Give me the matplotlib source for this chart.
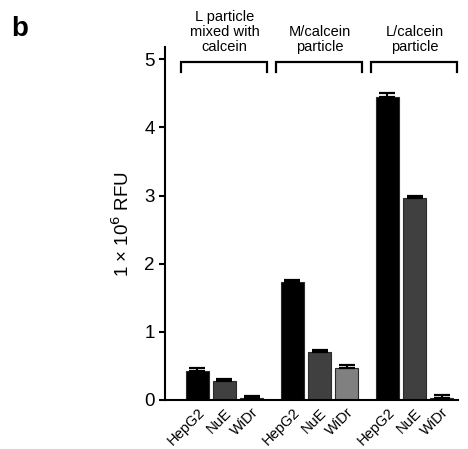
import matplotlib
matplotlib.use("Agg")
import matplotlib.pyplot as plt
import numpy as np

plt.rcParams['font.family'] = ['Liberation Sans', 'DejaVu Sans']

groups = ["L particle\nmixed with\ncalcein", "M/calcein\nparticle", "L/calcein\nparticle"]
cells = ["HepG2", "NuE", "WiDr"]
values = [0.425, 0.283, 0.025, 1.725, 0.70, 0.47, 4.44, 2.96, 0.025]
errors = [0.045, 0.03, 0.035, 0.03, 0.03, 0.04, 0.07, 0.04, 0.045]
bar_colors = ["#000000", "#404040", "#505050",
              "#000000", "#404040", "#808080",
              "#000000", "#404040", "#505050"]
yticks = [0, 1, 2, 3, 4, 5]

fig = plt.figure(figsize=(4.68, 4.49), dpi=100)
ax = fig.add_axes([165/468, 1-400/449, (458-165)/468, (400-47)/449])

x = []
for g in range(len(groups)):
    for c in range(len(cells)):
        x.append(g*(len(cells)+0.5) + c)
x = np.array(x)

ax.bar(x, values, width=0.85, color=bar_colors, edgecolor="#2a2a2a", linewidth=0.8, zorder=2)
ax.errorbar(x, values, yerr=[np.zeros(len(errors)), errors], fmt='none',
            ecolor='black', elinewidth=1.5, capsize=5.8, capthick=1.6, zorder=3)

ax.set_xlim(-1.19, 9.6)
ax.set_ylim(0, 5.18)
ax.set_yticks(yticks)
ax.set_yticklabels([str(t) for t in yticks], fontsize=13.5)
ax.set_xticks(x)
ax.set_xticklabels(cells*len(groups), rotation=45, ha='right', rotation_mode='anchor', fontsize=10.5)
ax.tick_params(axis='x', length=0, pad=4)
ax.tick_params(axis='y', length=4.5, width=1.5, pad=3)
for s in ['top', 'right']:
    ax.spines[s].set_visible(False)
ax.spines['left'].set_linewidth(1.5)
ax.spines['bottom'].set_linewidth(1.5)
ax.set_ylabel("1 × 10$^{6}$ RFU", fontsize=13.5, labelpad=8)

# brackets
for g, name in enumerate(groups):
    cx = g*(len(cells)+0.5) + 1 - 0.03
    hw = 1.58
    ax.plot([cx-hw, cx-hw, cx+hw, cx+hw], [4.82, 4.96, 4.96, 4.82], color='black',
            lw=1.6, clip_on=False, solid_joinstyle='miter')
    ax.text(cx + 0.03, 5.08, name, ha='center', va='bottom', fontsize=10.5,
            linespacing=1.08, clip_on=False)

fig.text(11/468, 1-36/449, "b", fontsize=20, fontweight='bold', ha='left', va='baseline')

fig.savefig("out.png", dpi=100)
